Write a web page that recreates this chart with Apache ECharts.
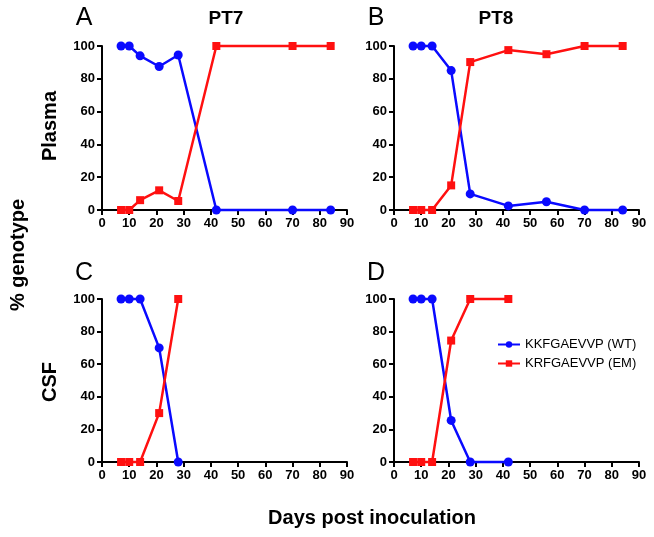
<!DOCTYPE html>
<html>
<head>
<meta charset="utf-8">
<script src="https://cdn.jsdelivr.net/npm/echarts@6/dist/echarts.min.js"></script>
<style>html,body{margin:0;padding:0;background:#fff}#c{width:654px;height:537px}</style>
</head>
<body>
<div id="c"></div>
<script>
// Data
const xTicks = [0, 10, 20, 30, 40, 50, 60, 70, 80, 90];
const yTicks = [0, 20, 40, 60, 80, 100];
const seriesNames = ['KKFGAEVVP (WT)', 'KRFGAEVVP (EM)'];

const daysA = [7, 10, 14, 21, 28, 42, 70, 84];
const wtA   = [100, 100, 94, 87.5, 94.5, 0, 0, 0];
const emA   = [0, 0, 6, 12, 5.5, 100, 100, 100];

const daysB = [7, 10, 14, 21, 28, 42, 56, 70, 84];
const wtB   = [100, 100, 100, 85, 9.8, 2.5, 5, 0, 0];
const emB   = [0, 0, 0, 15, 90.2, 97.5, 95, 100, 100];

const daysC = [7, 10, 14, 21, 28];
const wtC   = [100, 100, 100, 70, 0];
const emC   = [0, 0, 0, 30, 100];

const daysD = [7, 10, 14, 21, 28, 42];
const wtD   = [100, 100, 100, 25.5, 0, 0];
const emD   = [0, 0, 0, 74.5, 100, 100];

const FONT = "'Liberation Sans', Arial, Helvetica, sans-serif";
const BLUE = '#0a0aff';
const RED = '#ff1010';

const grids = [
  {left: 102, top: 46, width: 245, height: 164},
  {left: 394, top: 46, width: 245, height: 164},
  {left: 102, top: 299, width: 245, height: 163},
  {left: 394, top: 299, width: 245, height: 163}
];

function xAx(i) {
  return {
    type: 'value', gridIndex: i, min: xTicks[0], max: xTicks[xTicks.length - 1],
    interval: xTicks[1] - xTicks[0],
    axisLine: {onZero: false, lineStyle: {color: '#000', width: 2}},
    axisTick: {inside: false, length: 5, lineStyle: {color: '#000', width: 2}},
    axisLabel: {color: '#000', fontFamily: FONT, fontWeight: 'bold', fontSize: 13, margin: 7},
    splitLine: {show: false}
  };
}
function yAx(i) {
  return {
    type: 'value', gridIndex: i, min: yTicks[0], max: yTicks[yTicks.length - 1],
    interval: yTicks[1] - yTicks[0],
    axisLine: {show: true, onZero: false, lineStyle: {color: '#000', width: 2}},
    axisTick: {show: true, inside: false, length: 5, lineStyle: {color: '#000', width: 2}},
    axisLabel: {color: '#000', fontFamily: FONT, fontWeight: 'bold', fontSize: 13, margin: 7},
    splitLine: {show: false}
  };
}
function zip(xs, ys) { return xs.map((x, k) => [x, ys[k]]); }
function ser(i, name, xs, ys, color, symbol, size) {
  return {
    type: 'line', name: name, xAxisIndex: i, yAxisIndex: i,
    data: zip(xs, ys), symbol: symbol, symbolSize: size, showSymbol: true,
    clip: false, animation: false,
    lineStyle: {color: color, width: 2.5},
    itemStyle: {color: color}
  };
}

const panels = [[daysA, wtA, emA], [daysB, wtB, emB], [daysC, wtC, emC], [daysD, wtD, emD]];
const series = [];
panels.forEach((p, i) => {
  series.push(ser(i, seriesNames[0], p[0], p[1], BLUE, 'circle', 9));
  series.push(ser(i, seriesNames[1], p[0], p[2], RED, 'rect', 8));
});

function txt(x, y, s, size, bold, rot) {
  return {
    type: 'text', x: x, y: y, rotation: rot || 0,
    style: {text: s, fill: '#000', font: (bold ? 'bold ' : '') + size + 'px ' + FONT,
            textAlign: 'center', textVerticalAlign: 'middle'}
  };
}

const chart = echarts.init(document.getElementById('c'), null, {renderer: 'canvas'});
chart.setOption({
  animation: false,
  backgroundColor: '#fff',
  grid: grids.map(g => Object.assign({containLabel: false}, g)),
  xAxis: [0, 1, 2, 3].map(xAx),
  yAxis: [0, 1, 2, 3].map(yAx),
  series: series,
  legend: {
    data: seriesNames, orient: 'vertical', left: 492, top: 333,
    itemWidth: 22, itemHeight: 8, itemGap: 6,
    textStyle: {color: '#000', fontFamily: FONT, fontSize: 13}
  },
  graphic: [
    txt(84, 18, 'A', 25, false),
    txt(376, 18, 'B', 25, false),
    txt(84, 273, 'C', 25, false),
    txt(376, 273, 'D', 25, false),
    txt(226, 19, 'PT7', 19, true),
    txt(496, 19, 'PT8', 19, true),
    txt(50, 126, 'Plasma', 20, true, Math.PI / 2),
    txt(50, 382, 'CSF', 20, true, Math.PI / 2),
    txt(18, 255, '% genotype', 20, true, Math.PI / 2),
    txt(372, 518, 'Days post inoculation', 20, true)
  ]
});
</script>
</body>
</html>
